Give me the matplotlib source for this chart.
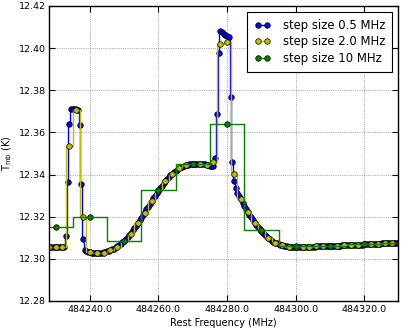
import numpy as np
import matplotlib
matplotlib.use("Agg")
import matplotlib.pyplot as plt
from matplotlib.ticker import FormatStrFormatter, MultipleLocator

# ---------------- data ----------------
# 0.5 MHz step: start frequency, step, values
blue_start = 484228.0
blue_step = 0.5
blue_vals = [
    12.3056, 12.3055, 12.3055, 12.3054, 12.3055, 12.3055, 12.3054, 12.3055, 12.3056, 12.3058,  # 484228.0-484232.5
    12.3110, 12.3365, 12.3641, 12.3711, 12.3713, 12.3712, 12.3711, 12.3708, 12.3635, 12.3355,  # 484233.0-484237.5
    12.3096, 12.3040, 12.3035, 12.3032, 12.3031, 12.3030, 12.3030, 12.3029, 12.3029, 12.3029,  # 484238.0-484242.5
    12.3029, 12.3030, 12.3031, 12.3033, 12.3035, 12.3038, 12.3041, 12.3045, 12.3049, 12.3054,  # 484243.0-484247.5
    12.3059, 12.3065, 12.3072, 12.3079, 12.3087, 12.3095, 12.3104, 12.3114, 12.3124, 12.3135,  # 484248.0-484252.5
    12.3146, 12.3158, 12.3170, 12.3183, 12.3196, 12.3209, 12.3222, 12.3235, 12.3248, 12.3261,  # 484253.0-484257.5
    12.3274, 12.3287, 12.3300, 12.3312, 12.3324, 12.3336, 12.3347, 12.3358, 12.3368, 12.3378,  # 484258.0-484262.5
    12.3387, 12.3396, 12.3404, 12.3411, 12.3418, 12.3424, 12.3429, 12.3434, 12.3438, 12.3441,  # 484263.0-484267.5
    12.3444, 12.3446, 12.3448, 12.3449, 12.3450, 12.3450, 12.3451, 12.3451, 12.3450, 12.3450,  # 484268.0-484272.5
    12.3449, 12.3448, 12.3446, 12.3444, 12.3442, 12.3440, 12.3442, 12.3477, 12.3686, 12.3975,  # 484273.0-484277.5
    12.4083, 12.4076, 12.4068, 12.4062, 12.4057, 12.4052, 12.3770, 12.3461, 12.3368, 12.3336,  # 484278.0-484282.5
    12.3312, 12.3296, 12.3282, 12.3266, 12.3251, 12.3237, 12.3223, 12.3210, 12.3197, 12.3184,  # 484283.0-484287.5
    12.3172, 12.3162, 12.3151, 12.3141, 12.3132, 12.3123, 12.3114, 12.3106, 12.3098, 12.3092,  # 484288.0-484292.5
    12.3086, 12.3081, 12.3077, 12.3073, 12.3069, 12.3066, 12.3064, 12.3062, 12.3060, 12.3059,  # 484293.0-484297.5
    12.3058, 12.3057, 12.3057, 12.3056, 12.3056, 12.3056, 12.3056, 12.3056, 12.3056, 12.3057,  # 484298.0-484302.5
    12.3057, 12.3057, 12.3057, 12.3058, 12.3058, 12.3058, 12.3059, 12.3059, 12.3059, 12.3060,  # 484303.0-484307.5
    12.3060, 12.3060, 12.3061, 12.3061, 12.3061, 12.3062, 12.3062, 12.3062, 12.3063, 12.3063,  # 484308.0-484312.5
    12.3063, 12.3064, 12.3064, 12.3064, 12.3065, 12.3065, 12.3066, 12.3066, 12.3066, 12.3067,  # 484313.0-484317.5
    12.3067, 12.3068, 12.3068, 12.3068, 12.3069, 12.3069, 12.3070, 12.3070, 12.3070, 12.3071,  # 484318.0-484322.5
    12.3071, 12.3072, 12.3072, 12.3072, 12.3073, 12.3073, 12.3074, 12.3074, 12.3074, 12.3075,  # 484323.0-484327.5
    12.3075, 12.3076, 12.3076, 12.3076, 12.3077,                                              # 484328.0-484330.0
]

# 2.0 MHz step
yellow_start = 484228.0
yellow_step = 2.0
yellow_vals = [
    12.3055, 12.3055, 12.3056, 12.3536, 12.3705, 12.3197, 12.3031, 12.3029, 12.3030, 12.3041,  # 484228-484246
    12.3057, 12.3086, 12.3120, 12.3168, 12.3220, 12.3273, 12.3323, 12.3368, 12.3404, 12.3429,  # 484248-484266
    12.3444, 12.3450, 12.3450, 12.3446, 12.3461, 12.4022, 12.4030, 12.3402, 12.3284, 12.3222,  # 484268-484286
    12.3172, 12.3132, 12.3097, 12.3077, 12.3064, 12.3058, 12.3056, 12.3056, 12.3057, 12.3059,  # 484288-484306
    12.3060, 12.3061, 12.3063, 12.3064, 12.3066, 12.3067, 12.3069, 12.3070, 12.3072, 12.3074,  # 484308-484326
    12.3075, 12.3077,                                                                          # 484328-484330
]

# 10 MHz step
green_freq = [484220, 484230, 484240, 484250, 484260, 484270, 484280, 484290, 484300, 484310, 484320, 484330]
green_vals = [12.3151, 12.3151, 12.3200, 12.3086, 12.3325, 12.3449, 12.3640, 12.3138, 12.3062, 12.3063, 12.3069, 12.3075]

labels = ["step size 0.5 MHz", "step size 2.0 MHz", "step size 10 MHz"]
xticks = [484240, 484260, 484280, 484300, 484320]
xlim = (484228.1, 484329.8)
ylim = (12.28, 12.42)

blue_freq = blue_start + blue_step * np.arange(len(blue_vals))
yellow_freq = yellow_start + yellow_step * np.arange(len(yellow_vals))

# ---------------- figure ----------------
plt.rcParams['font.family'] = ['DejaVu Sans']
plt.rcParams['mathtext.default'] = 'regular'

fig = plt.figure(figsize=(4.11, 3.35), dpi=100, facecolor='white')
ax = fig.add_axes([49 / 411, 1 - 301 / 335, (398 - 49) / 411, (301 - 6) / 335])

common = dict(drawstyle='steps-mid', marker='o', markersize=4.0,
              markeredgecolor='black', markeredgewidth=0.5, linewidth=1.0)
ax.plot(blue_freq, blue_vals, color='blue', label=labels[0], **common)
ax.plot(yellow_freq, yellow_vals, color=(0.75, 0.75, 0), label=labels[1], **common)
ax.plot(green_freq, green_vals, color=(0, 0.5, 0), label=labels[2], **common)

ax.set_xlim(*xlim)
ax.set_ylim(*ylim)
ax.set_xticks(xticks)
ax.yaxis.set_major_locator(MultipleLocator(0.02))
ax.xaxis.set_major_formatter(FormatStrFormatter('%.1f'))
ax.yaxis.set_major_formatter(FormatStrFormatter('%.2f'))

ax.tick_params(axis='both', which='major', direction='in', length=4, width=0.8,
               top=True, right=True, labelsize=6.8)
ax.tick_params(axis='y', pad=2)
ax.tick_params(axis='x', pad=3)
for s in ax.spines.values():
    s.set_linewidth(1.0)

ax.grid(True, color='black', linestyle=':', linewidth=0.5, alpha=0.6)
ax.set_axisbelow(True)

ax.set_xlabel('Rest Frequency (MHz)', fontsize=7, labelpad=3)
ax.set_ylabel(r'T$_{\rm mb}$ (K)', fontsize=7, labelpad=4)

leg = ax.legend(loc='upper right', numpoints=2, fontsize=8.4, fancybox=False,
                framealpha=1, edgecolor='black', borderaxespad=0.5,
                handlelength=1.4, handletextpad=1.05, labelspacing=0.3,
                borderpad=0.6)
leg.get_frame().set_linewidth(0.8)

fig.savefig('out.png', dpi=100, facecolor='white')
